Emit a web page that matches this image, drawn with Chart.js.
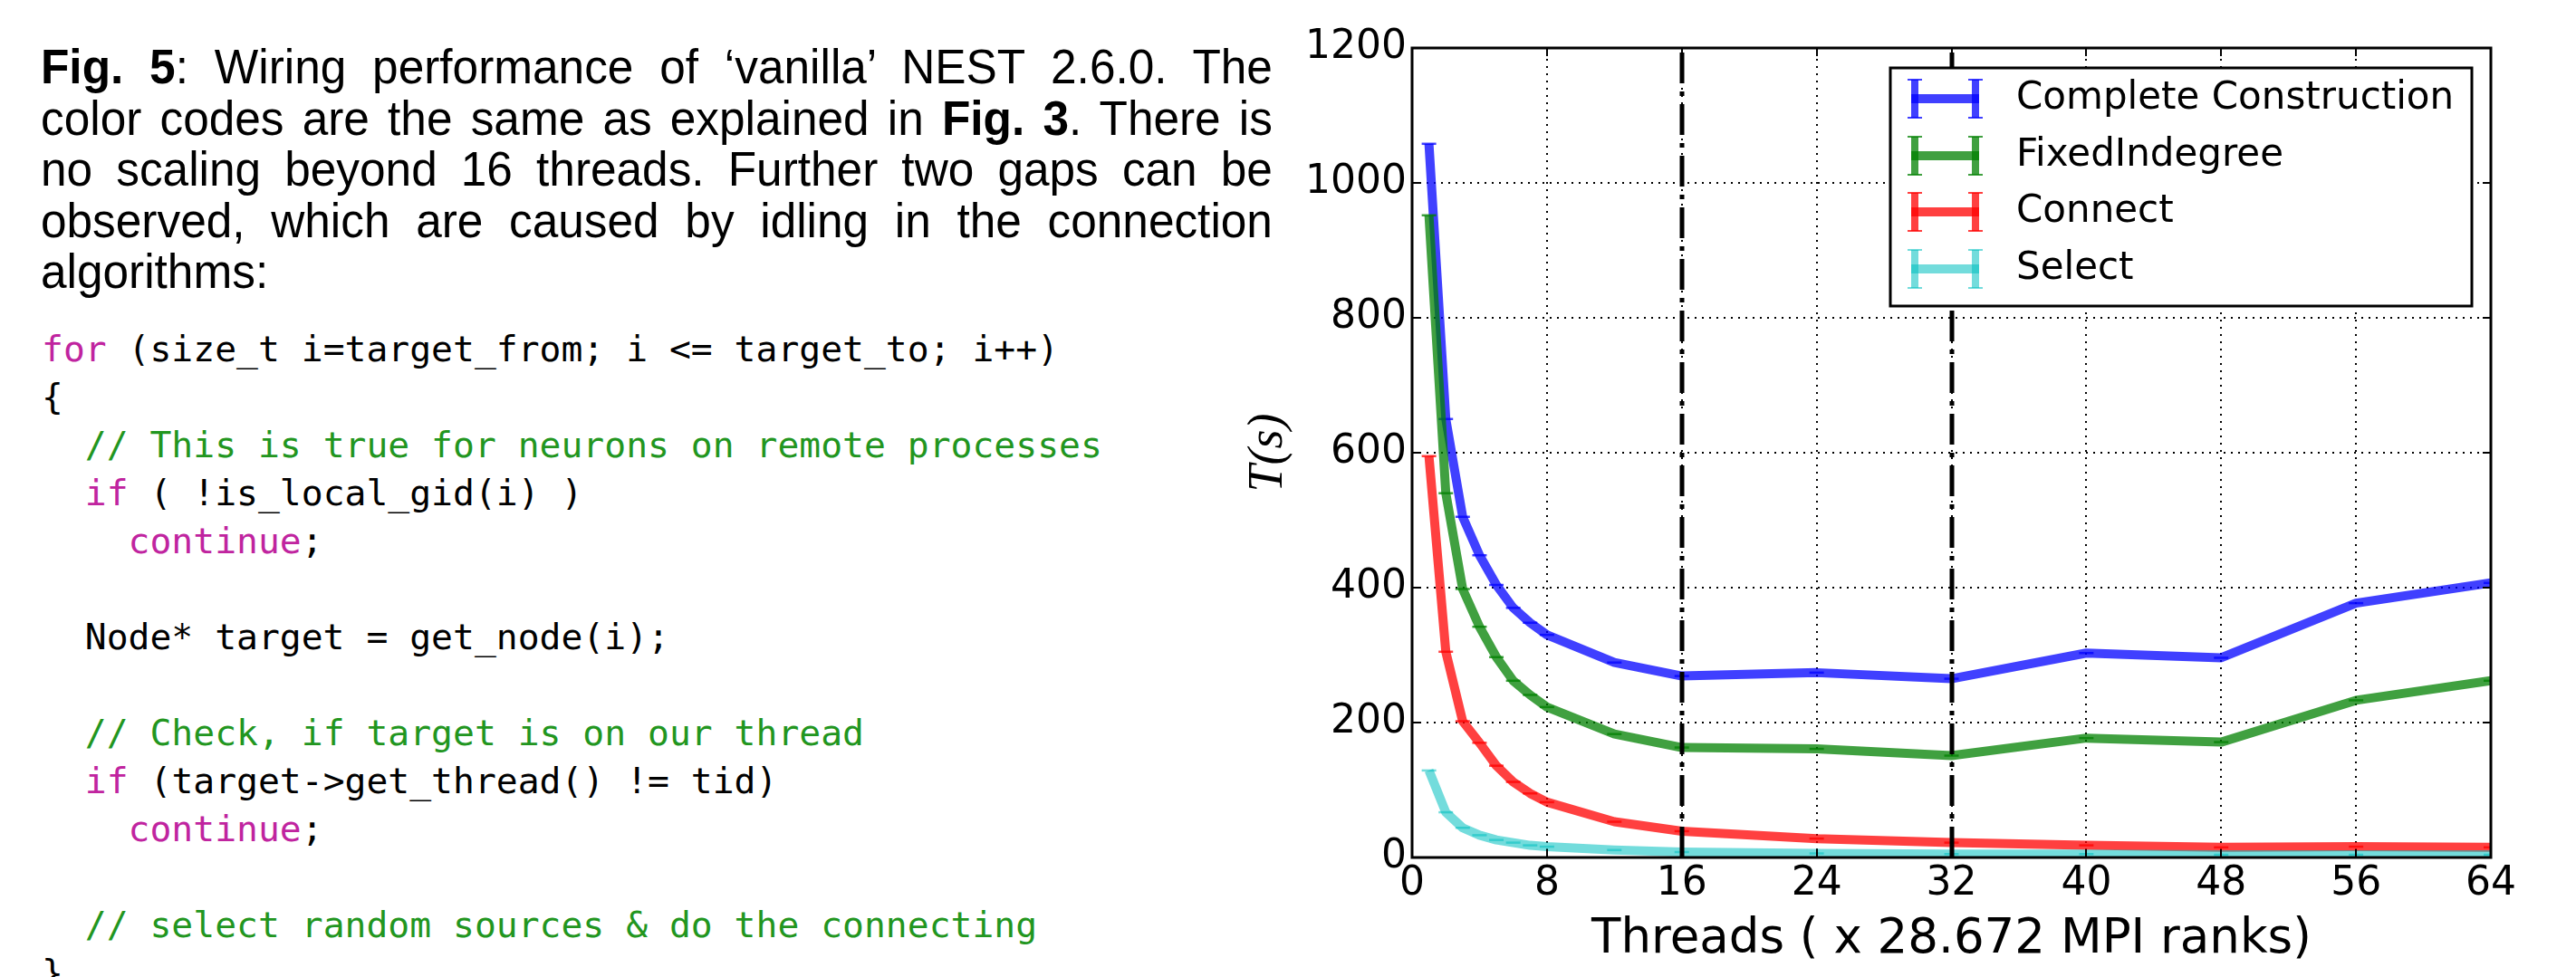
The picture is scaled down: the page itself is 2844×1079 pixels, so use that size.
<!DOCTYPE html>
<html>
<head>
<meta charset="utf-8">
<script src="https://cdn.jsdelivr.net/npm/chart.js@4.4.1/dist/chart.umd.min.js"></script>
<style>
html,body{margin:0;padding:0;background:#fff;width:2844px;height:1079px;overflow:hidden;}
#caption{position:absolute;left:45px;top:45px;width:1430px;transform:scaleX(0.951);transform-origin:0 0;font-family:'Liberation Sans',Arial,Helvetica,sans-serif;font-size:54px;line-height:56.5px;color:#000;}
#caption .j{text-align:justify;text-align-last:justify;}
#code{position:absolute;left:46px;top:359px;margin:0;font-family:'DejaVu Sans Mono',monospace;font-size:39.7px;line-height:53px;color:#000;}
.kw{color:#c0249f;}
.cm{color:#22961f;}
#c{position:absolute;left:1300px;top:0;}
</style>
</head>
<body>
<div id="caption">
<div class="j"><b>Fig. 5</b>: Wiring performance of ‘vanilla’ NEST 2.6.0. The</div>
<div class="j">color codes are the same as explained in <b>Fig. 3</b>. There is</div>
<div class="j">no scaling beyond 16 threads. Further two gaps can be</div>
<div class="j">observed, which are caused by idling in the connection</div>
<div>algorithms:</div>
</div>
<pre id="code"><span class="kw">for</span> (size_t i=target_from; i &lt;= target_to; i++)
{
  <span class="cm">// This is true for neurons on remote processes</span>
  <span class="kw">if</span> ( !is_local_gid(i) )
    <span class="kw">continue</span>;

  Node* target = get_node(i);

  <span class="cm">// Check, if target is on our thread</span>
  <span class="kw">if</span> (target-&gt;get_thread() != tid)
    <span class="kw">continue</span>;

  <span class="cm">// select random sources &amp; do the connecting</span>
}</pre>
<canvas id="c" width="1544" height="1079"></canvas>
<script>
// ---- data ----
const threads = [1, 2, 3, 4, 5, 6, 7, 8, 12, 16, 24, 32, 40, 48, 56, 64];
const completeConstruction = [1058, 650, 505, 448, 404, 370, 348, 330, 289, 269, 274, 265, 303, 296, 377, 407];
const fixedIndegree = [952, 540, 398, 342, 297, 262, 241, 223, 183, 163, 161, 151, 177, 171, 233, 262];
const connectTimes = [595, 305, 202, 170, 136, 112, 95, 82, 53, 39, 28, 22, 18, 15, 16, 15];
const selectTimes = [129, 67, 44, 33, 26, 22, 18, 16, 11, 8, 6, 5, 5, 4, 4, 4];
const seriesLabels = ['Complete Construction', 'FixedIndegree', 'Connect', 'Select'];
const xTickValues = [0, 8, 16, 24, 32, 40, 48, 56, 64];
const yTickValues = [0, 200, 400, 600, 800, 1000, 1200];
const gapThreads = [16, 32];
const xTitle = 'Threads ( x 28.672 MPI ranks)';
const yTitle = 'T(s)';

// ---- styles ----
const seriesColors = ['rgba(0,0,255,0.75)', 'rgba(0,128,0,0.75)', 'rgba(255,0,0,0.75)', 'rgba(0,191,191,0.55)'];
const seriesValues = [completeConstruction, fixedIndegree, connectTimes, selectTimes];

const datasets = seriesValues.map((vals, i) => ({
  label: seriesLabels[i],
  data: threads.map((t, j) => ({x: t, y: vals[j]})),
  borderColor: seriesColors[i],
  backgroundColor: seriesColors[i],
  borderWidth: 10,
  borderJoinStyle: 'round',
  tension: 0,
  fill: false,
  pointStyle: 'line',
  pointRadius: 8,
  pointBorderWidth: 2.5,
  pointBorderColor: seriesColors[i],
  order: 4 - i
}));

const decor = {
  id: 'decor',
  beforeDatasetsDraw(chart) {
    const {ctx, chartArea: ca, scales: {x, y}} = chart;
    ctx.save();
    ctx.strokeStyle = '#000';
    ctx.lineWidth = 2;
    ctx.setLineDash([2, 6]);
    xTickValues.slice(1, -1).forEach(v => {
      const px = Math.round(x.getPixelForValue(v));
      ctx.beginPath(); ctx.moveTo(px, ca.bottom); ctx.lineTo(px, ca.top); ctx.stroke();
    });
    yTickValues.slice(1, -1).forEach(v => {
      const py = Math.round(y.getPixelForValue(v));
      ctx.beginPath(); ctx.moveTo(ca.left, py); ctx.lineTo(ca.right, py); ctx.stroke();
    });
    ctx.restore();
  },
  afterDatasetsDraw(chart) {
    const {ctx, chartArea: ca, scales: {x, y}} = chart;
    ctx.save();
    // dash-dot gap markers
    ctx.strokeStyle = '#000';
    ctx.lineWidth = 5;
    ctx.setLineDash([34, 9, 5, 9]);
    gapThreads.forEach(v => {
      const px = Math.round(x.getPixelForValue(v));
      ctx.beginPath(); ctx.moveTo(px, ca.bottom); ctx.lineTo(px, ca.top); ctx.stroke();
    });
    ctx.setLineDash([]);
    // inward ticks
    ctx.lineWidth = 2;
    const tl = 9;
    xTickValues.forEach(v => {
      const px = Math.round(x.getPixelForValue(v));
      ctx.beginPath();
      ctx.moveTo(px, ca.bottom); ctx.lineTo(px, ca.bottom - tl);
      ctx.moveTo(px, ca.top); ctx.lineTo(px, ca.top + tl);
      ctx.stroke();
    });
    yTickValues.forEach(v => {
      const py = Math.round(y.getPixelForValue(v));
      ctx.beginPath();
      ctx.moveTo(ca.left, py); ctx.lineTo(ca.left + tl, py);
      ctx.moveTo(ca.right, py); ctx.lineTo(ca.right - tl, py);
      ctx.stroke();
    });
    // frame
    ctx.lineWidth = 3;
    ctx.strokeRect(ca.left, ca.top, ca.right - ca.left, ca.bottom - ca.top);

    // legend
    const bx = ca.right - 663, by = ca.top + 22, bw = 642, bh = 263;
    ctx.fillStyle = '#fff';
    ctx.fillRect(bx, by, bw, bh);
    ctx.strokeStyle = '#000';
    ctx.lineWidth = 3;
    ctx.strokeRect(bx, by, bw, bh);
    const rowY = [34, 97, 159, 222];
    chart.data.datasets.forEach((ds, i) => {
      const cy = by + rowY[i];
      const x0 = bx + 23, x1 = bx + 98;
      ctx.strokeStyle = ds.borderColor;
      ctx.lineCap = 'butt';
      ctx.lineWidth = 10;
      ctx.beginPath(); ctx.moveTo(x0, cy); ctx.lineTo(x1, cy); ctx.stroke();
      ctx.lineWidth = 8;
      [x0 + 4, x1 - 4].forEach(xx => {
        ctx.beginPath(); ctx.moveTo(xx, cy - 21); ctx.lineTo(xx, cy + 21); ctx.stroke();
      });
      ctx.lineWidth = 2;
      [x0 + 4, x1 - 4].forEach(xx => {
        ctx.beginPath();
        ctx.moveTo(xx - 8, cy - 21); ctx.lineTo(xx + 8, cy - 21);
        ctx.moveTo(xx - 8, cy + 21); ctx.lineTo(xx + 8, cy + 21);
        ctx.stroke();
      });
      ctx.fillStyle = '#000';
      ctx.font = '42px "DejaVu Sans"';
      ctx.textBaseline = 'middle';
      ctx.textAlign = 'left';
      ctx.fillText(ds.label, bx + 139, cy);
    });
    ctx.restore();
  }
};

new Chart(document.getElementById('c'), {
  type: 'line',
  data: {datasets},
  options: {
    responsive: false,
    animation: false,
    devicePixelRatio: 1,
    layout: {padding: {top: 53, right: 94, left: 0, bottom: 0}},
    plugins: {legend: {display: false}, tooltip: {enabled: false}},
    scales: {
      x: {
        type: 'linear', min: 0, max: 64,
        afterBuildTicks: s => { s.ticks = xTickValues.map(v => ({value: v})); },
        ticks: {color: '#000', font: {family: 'DejaVu Sans', size: 44}, padding: 3, autoSkip: false, maxRotation: 0, callback: v => String(v)},
        grid: {display: false, drawTicks: false},
        border: {display: false},
        title: {display: true, text: xTitle, color: '#000', font: {family: 'DejaVu Sans', size: 53}, padding: {top: 0, bottom: 9}},
        afterFit: s => { s.height = 132; }
      },
      y: {
        type: 'linear', min: 0, max: 1200,
        afterBuildTicks: s => { s.ticks = yTickValues.map(v => ({value: v})); },
        ticks: {color: '#000', font: {family: 'DejaVu Sans', size: 44}, padding: 6, callback: v => String(v)},
        grid: {display: false, drawTicks: false},
        border: {display: false},
        title: {display: true, text: yTitle, color: '#000', font: {family: 'Liberation Serif', size: 54, style: 'italic'}, padding: {top: 68, bottom: 0}},
        afterFit: s => { s.width = 259; }
      }
    }
  },
  plugins: [decor]
});
</script>
</body>
</html>
